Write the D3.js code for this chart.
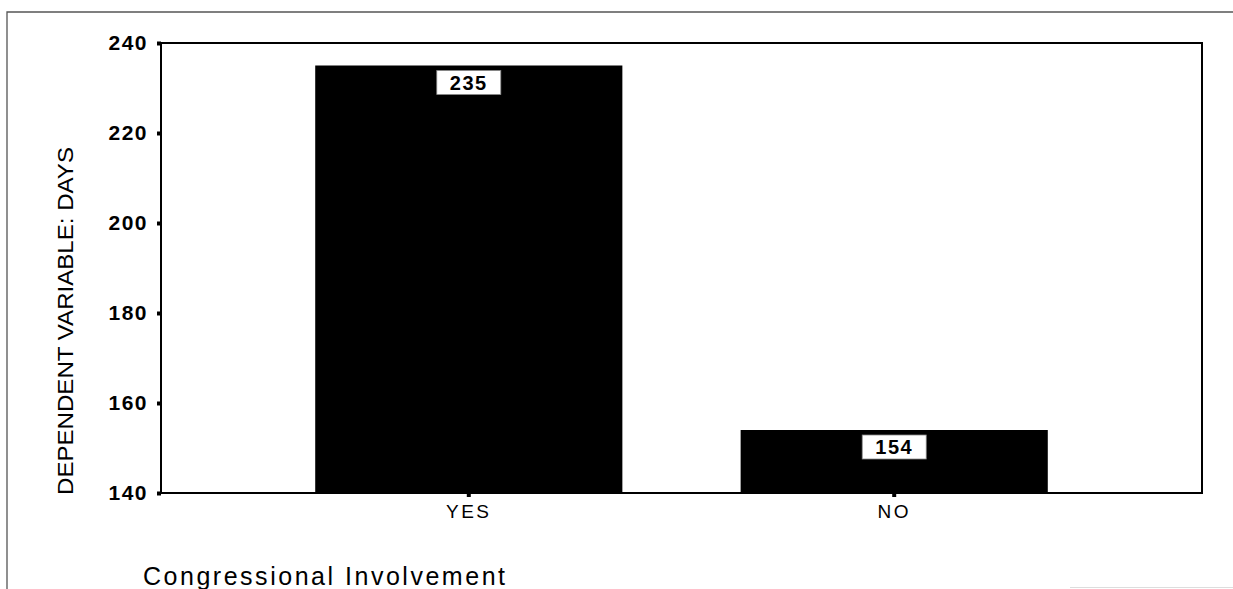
<!DOCTYPE html>
<html>
<head>
<meta charset="utf-8">
<script src="https://cdn.jsdelivr.net/npm/d3@7"></script>
<style>
  html, body { margin: 0; padding: 0; background: #fff; }
  svg { display: block; }
  text { font-family: "Liberation Sans", Arial, sans-serif; fill: #000; }
</style>
</head>
<body>
<svg id="chart" width="1233" height="589"></svg>
<script>
const categories = ["YES", "NO"];
const values = [235, 154];
const valueLabels = ["235", "154"];
const yTicks = [140, 160, 180, 200, 220, 240];
const yTitle = "DEPENDENT VARIABLE: DAYS";
const xTitle = "Congressional Involvement";

const svg = d3.select("#chart");
const plot = { left: 161, right: 1202, top: 43, bottom: 493 };

// outer frame (scanned page border)
svg.append("path")
  .attr("d", `M7,600 L7,12 L1240,12`)
  .attr("fill", "none").attr("stroke", "#555").attr("stroke-width", 1.3);
svg.append("line")
  .attr("x1", 1070).attr("x2", 1233).attr("y1", 587.5).attr("y2", 587.5)
  .attr("stroke", "#ddd").attr("stroke-width", 1);

const x = d3.scaleBand()
  .domain(categories)
  .range([plot.left, plot.right])
  .paddingInner(0.278)
  .paddingOuter(0.3625);

const y = d3.scaleLinear()
  .domain([140, 240])
  .range([plot.bottom, plot.top]);

// bars
svg.append("g").selectAll("rect")
  .data(categories)
  .join("rect")
  .attr("x", d => x(d))
  .attr("width", x.bandwidth())
  .attr("y", (d, i) => y(values[i]))
  .attr("height", (d, i) => y(140) - y(values[i]))
  .attr("fill", "#000");

// plot frame
svg.append("rect")
  .attr("x", plot.left).attr("y", plot.top)
  .attr("width", plot.right - plot.left)
  .attr("height", plot.bottom - plot.top)
  .attr("fill", "none").attr("stroke", "#000").attr("stroke-width", 2);

// y axis
const yAxis = d3.axisLeft(y).tickValues(yTicks).tickSize(4).tickPadding(9).tickFormat(d3.format("d"));
const gy = svg.append("g").attr("transform", `translate(${plot.left},0)`).call(yAxis);
gy.select(".domain").remove();
gy.selectAll(".tick line").attr("stroke", "#000").attr("stroke-width", 4);
gy.selectAll(".tick text")
  .attr("font-size", 21).attr("font-weight", "bold")
  .attr("letter-spacing", 1.5)
  .attr("font-family", "Liberation Sans, Arial, sans-serif")
  .attr("dy", "0.32em");

// x axis
const xAxis = d3.axisBottom(x).tickSize(4).tickPadding(8);
const gx = svg.append("g").attr("transform", `translate(0,${plot.bottom})`).call(xAxis);
gx.select(".domain").remove();
gx.selectAll(".tick line").attr("stroke", "#000").attr("stroke-width", 4);
gx.selectAll(".tick text")
  .attr("font-size", 19)
  .attr("letter-spacing", 2.5)
  .attr("font-family", "Liberation Sans, Arial, sans-serif");

// value labels
const lab = svg.append("g").selectAll("g")
  .data(categories)
  .join("g")
  .attr("transform", (d, i) => `translate(${x(d) + x.bandwidth() / 2},${y(values[i]) + 5})`);
lab.append("rect")
  .attr("x", -32).attr("y", 0).attr("width", 64).attr("height", 24)
  .attr("fill", "#fff").attr("stroke", "#888").attr("stroke-width", 0.8);
lab.append("text")
  .attr("x", 0).attr("y", 19)
  .attr("text-anchor", "middle")
  .attr("font-size", 20).attr("font-weight", "bold")
  .attr("letter-spacing", 1.5)
  .text((d, i) => valueLabels[i]);

// y title
svg.append("text")
  .attr("transform", "translate(73,321) rotate(-90)")
  .attr("text-anchor", "middle")
  .attr("font-size", 22)
  .attr("textLength", 348).attr("lengthAdjust", "spacingAndGlyphs")
  .text(yTitle);

// x title
svg.append("text")
  .attr("x", 143).attr("y", 585)
  .attr("font-size", 25)
  .attr("textLength", 362).attr("lengthAdjust", "spacing")
  .text(xTitle);
</script>
</body>
</html>
